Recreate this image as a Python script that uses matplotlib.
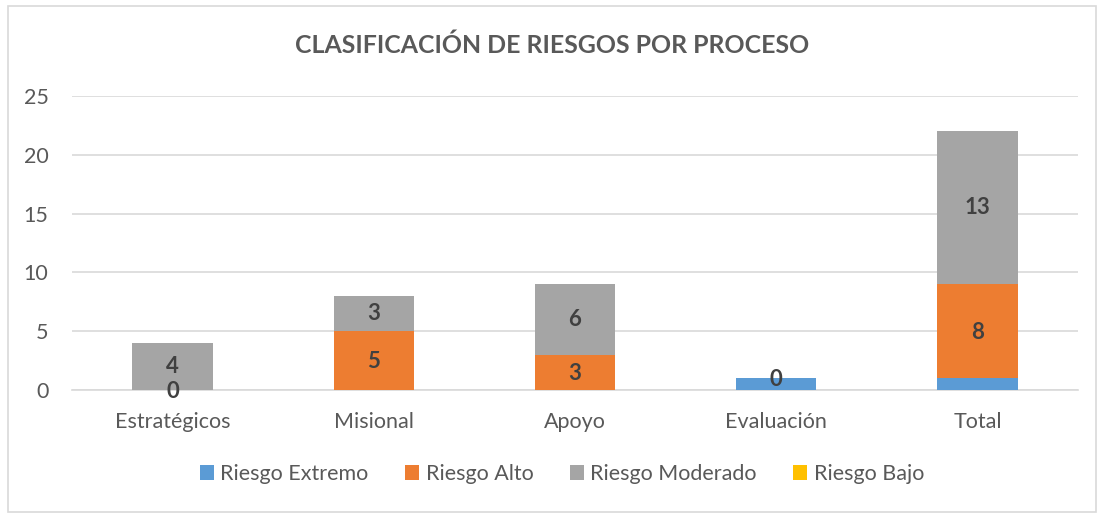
import matplotlib.pyplot as plt
import numpy as np
from matplotlib.patches import Rectangle

categories = ['Estratégicos', 'Misional', 'Apoyo', 'Evaluación', 'Total']
extremo = [0, 0, 0, 1, 1]
alto = [0, 5, 3, 0, 8]
moderado = [4, 3, 6, 0, 13]
bajo = [0, 0, 0, 0, 0]
series_names = ['Riesgo Extremo', 'Riesgo Alto', 'Riesgo Moderado', 'Riesgo Bajo']
colors = ['#5B9BD5', '#ED7D31', '#A5A5A5', '#FFC000']

plt.rcParams['font.family'] = ['Lato', 'DejaVu Sans']
TXT = '#595959'

fig = plt.figure(figsize=(11.04, 5.18), dpi=100)
ax = fig.add_axes([72 / 1104, 1 - 390 / 518, 1006 / 1104, 294 / 518])

x = np.arange(len(categories))
w = 0.40
bottom = np.zeros(len(categories))
bars = []
for vals, name, c in zip([extremo, alto, moderado, bajo], series_names, colors):
    ax.bar(x, vals, w, bottom=bottom, color=c, label=name, zorder=3)
    bars.append((vals, bottom.copy()))
    bottom += np.array(vals)

# data labels: Riesgo Alto (all) and Riesgo Moderado (non-zero)
for i in range(len(categories)):
    v, b0 = bars[1][0][i], bars[1][1][i]
    ax.text(x[i], b0 + v / 2 - 0.1, str(v), ha='center', va='center',
            fontsize=16, fontweight='bold', color='#404040', zorder=5)
    v, b0 = bars[2][0][i], bars[2][1][i]
    if v:
        ax.text(x[i], b0 + v / 2, str(v), ha='center', va='center',
                fontsize=16, fontweight='bold', color='#404040', zorder=5)

ax.set_xlim(-0.5, 4.5)
ax.set_ylim(0, 25)
ax.set_yticks(range(0, 26, 5))
ax.set_xticks(x)
ax.set_xticklabels(categories)
ax.yaxis.grid(True, color='#D9D9D9', linewidth=1.2, zorder=0)
for s in ['top', 'right', 'left']:
    ax.spines[s].set_visible(False)
ax.spines['bottom'].set_color('#D9D9D9')
ax.spines['bottom'].set_linewidth(1.2)
ax.tick_params(axis='both', length=0, labelsize=15.5, colors=TXT)
ax.tick_params(axis='y', pad=17)
ax.tick_params(axis='x', pad=16)

fig.text(0.5, 1 - 45 / 518, 'CLASIFICACIÓN DE RIESGOS POR PROCESO', ha='center', va='center',
         fontsize=17.9, fontweight='bold', color=TXT)

leg = fig.legend(loc='center', bbox_to_anchor=(562 / 1104, 1 - 474 / 518), ncol=4, frameon=False,
                 fontsize=15.5, handlelength=0.65, handleheight=0.65, handletextpad=0.3, columnspacing=1.7)
for t in leg.get_texts():
    t.set_color(TXT)

fig.patches.append(Rectangle((8 / 1104, 6 / 518), 1088 / 1104, 506 / 518, transform=fig.transFigure,
                             fill=False, edgecolor='#D9D9D9', linewidth=1.2))

fig.savefig('out.png', dpi=100)
